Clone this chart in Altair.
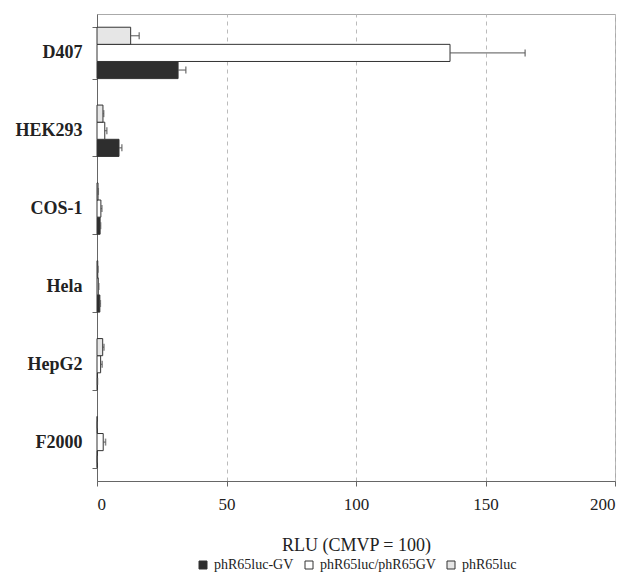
import altair as alt
import pandas as pd

categories = ["D407", "HEK293", "COS-1", "Hela", "HepG2", "F2000"]
series_legend = ["phR65luc-GV", "phR65luc/phR65GV", "phR65luc"]
series_stack = ["phR65luc", "phR65luc/phR65GV", "phR65luc-GV"]  # top-to-bottom in each group

gv = [31.3, 8.5, 1.2, 1.1, 0.2, 0.1]
gv_err = [3.0, 1.1, 0.2, 0.2, 0.0, 0.0]
combo = [136.3, 3.0, 1.5, 0.5, 1.4, 2.4]
combo_err = [29.0, 0.8, 0.4, 0.2, 0.6, 0.9]
luc = [13.0, 2.3, 0.4, 0.3, 2.2, 0.1]
luc_err = [3.3, 0.3, 0.1, 0.1, 0.5, 0.0]

rows = []
for name, vals, errs in [("phR65luc-GV", gv, gv_err),
                         ("phR65luc/phR65GV", combo, combo_err),
                         ("phR65luc", luc, luc_err)]:
    for c, v, e in zip(categories, vals, errs):
        rows.append({"cell": c, "series": name, "value": v, "upper": v + e})
df = pd.DataFrame(rows)

serif = "Liberation Serif"

y_enc = alt.Y("cell:N", sort=categories,
              scale=alt.Scale(paddingInner=0.34, paddingOuter=0.17),
              axis=alt.Axis(title=None, labelFont=serif, labelFontWeight="bold",
                            labelFontSize=18, labelColor="#222", labelPadding=10,
                            domainColor="#666", tickColor="#666", tickSize=5,
                            tickBand="extent", grid=False))
yoff_enc = alt.YOffset("series:N", sort=series_stack,
                       scale=alt.Scale(paddingInner=0, paddingOuter=0))
x_enc = alt.X("value:Q", scale=alt.Scale(domain=[0, 200], nice=False),
              axis=alt.Axis(title="RLU (CMVP = 100)", values=[0, 50, 100, 150, 200],
                            labelFont=serif, labelFontSize=17, labelColor="#222",
                            labelPadding=10, titleFont=serif, titleFontSize=18,
                            titleFontWeight="normal", titleColor="#222", titlePadding=24,
                            grid=True, gridDash=[4, 4], gridColor="#bbbbbb",
                            domainColor="#666", tickColor="#666", tickSize=5))

bars = alt.Chart(df).mark_bar(stroke="#333", strokeWidth=1).encode(
    y=y_enc,
    yOffset=yoff_enc,
    x=x_enc,
    fill=alt.Fill("series:N",
                  scale=alt.Scale(domain=series_legend, range=["#2e2e2e", "#ffffff", "#e6e6e6"]),
                  legend=alt.Legend(title=None, orient="none", direction="horizontal",
                                    legendX=99, legendY=544, symbolType="square",
                                    symbolSize=64, symbolStrokeColor="#333",
                                    symbolStrokeWidth=1, labelFont=serif,
                                    labelFontSize=14, labelColor="#222",
                                    columnPadding=8, labelOffset=4)),
)

err_line = alt.Chart(df).mark_rule(color="#555", strokeWidth=1).encode(
    y=alt.Y("cell:N", sort=categories),
    yOffset=alt.YOffset("series:N", sort=series_stack),
    x="value:Q",
    x2="upper:Q",
)
err_cap = alt.Chart(df).mark_tick(color="#555", thickness=1.5, size=7).encode(
    y=alt.Y("cell:N", sort=categories),
    yOffset=alt.YOffset("series:N", sort=series_stack),
    x="upper:Q",
)

chart = alt.layer(bars, err_line, err_cap).properties(
    width=518, height=467,
    autosize=alt.AutoSizeParams(type="none"),
    padding={"left": 89, "top": 6, "right": 7, "bottom": 92},
    background="white",
).configure_view(stroke="#aaaaaa", strokeWidth=1)

chart.save("out.html", embed_options={"renderer": "svg", "actions": False})
